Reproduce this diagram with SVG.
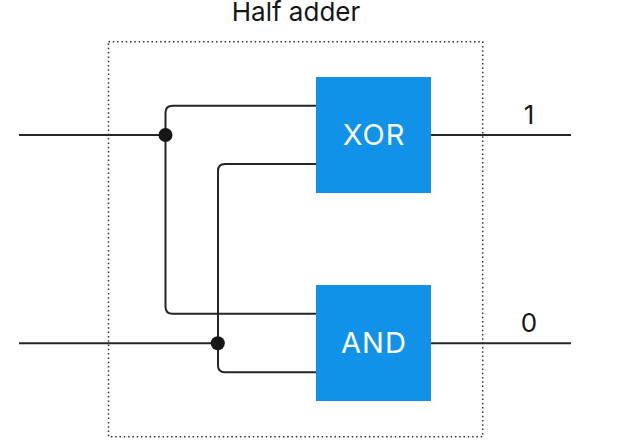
<svg xmlns="http://www.w3.org/2000/svg" width="633" height="447" viewBox="0 0 633 447">
<style>
text{font-family:"Inter","Liberation Sans",sans-serif;font-size:26px;text-anchor:middle}
.w{fill:none;stroke:#262626;stroke-width:2}
.g{fill:#0f92e8}
.l{fill:#fff;font-size:29px;letter-spacing:1px}
.d{fill:#161616}
.t{fill:#161616}
</style>
<rect width="633" height="447" fill="#fff"/>
<g id="boundary"><rect x="108.500" y="41.700" width="374.200" height="395" fill="none" stroke="#333" stroke-width="1.500" stroke-dasharray="1.500 2.800"/><text class="t" x="296" y="21">Half adder</text></g>
<g id="connectors">
<path class="w" d="M19 135H165.500M316 105.700H172.500Q165.500 105.700 165.500 112.700V306.700Q165.500 313.700 172.500 313.700H316M316 164H225Q218 164 218 171V365.300Q218 372.300 225 372.300H316M19 343.300H218M431 135H571M431 343.300H571"/>
</g>
<g id="xor"><rect class="g" x="316" y="77" width="115" height="116"/><text class="l" x="374" y="145">XOR</text></g>
<g id="and"><rect class="g" x="316" y="285" width="115" height="116"/><text class="l" x="374" y="353">AND</text></g>
<g id="junction-a"><circle class="d" cx="165.500" cy="135" r="7"/></g>
<g id="junction-b"><circle class="d" cx="217.800" cy="343.300" r="7"/></g>
<g id="output-1"><text class="t" x="529" y="124">1</text></g>
<g id="output-0"><text class="t" x="529" y="332">0</text></g>
</svg>
